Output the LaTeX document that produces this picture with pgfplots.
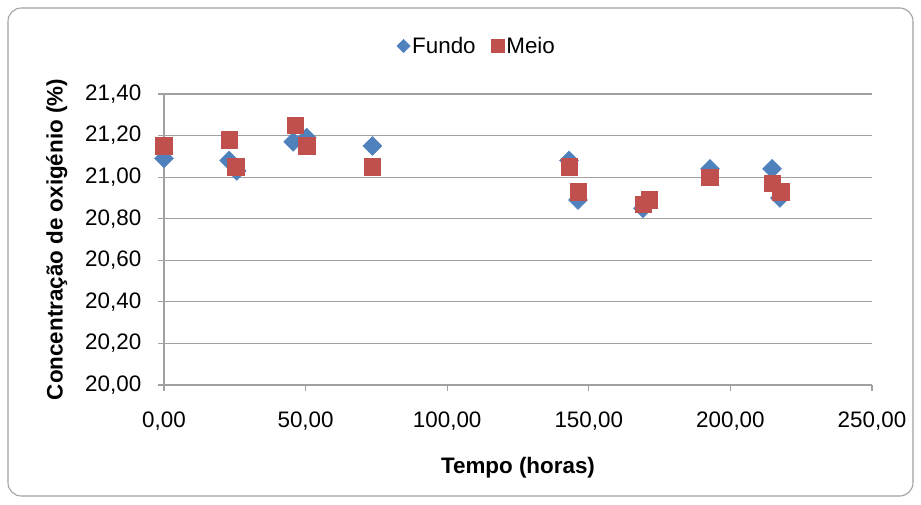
\documentclass[border=0pt]{standalone}
\usepackage{pgfplots}
\pgfplotsset{compat=1.18}
\usepackage{fontspec}
\setmainfont{Liberation Sans}
\definecolor{fundo}{HTML}{4F81BD}
\definecolor{meio}{HTML}{C0504D}
\definecolor{gridc}{HTML}{A0A0A0}
\begin{document}
\begin{tikzpicture}[x=1pt,y=1pt]
\path (-123,-89.25) rectangle (567.75,288.75);
\draw[gridc, rounded corners=10pt, line width=0.8pt] (-117,-83.25) rectangle (561.75,282.75);
\begin{axis}[
  at={(0,0)}, anchor=south west,
  scale only axis, width=531pt, height=218.25pt,
  xmin=0, xmax=250, ymin=20, ymax=21.4,
  xtick={0,50,100,150,200,250},
  ytick={20,20.2,20.4,20.6,20.8,21,21.2,21.4},
  axis x line*=bottom, axis y line*=left,
  axis line style={gridc, line width=0.8pt, -},
  ymajorgrids, grid style={gridc, line width=0.8pt},
  tick style={gridc, line width=0.8pt},
  tick align=outside, major tick length=4.5pt,
  /pgf/number format/.cd, fixed, fixed zerofill, precision=2, use comma, 1000 sep={}, assume math mode=true,
  /pgfplots/.cd,
  ticklabel style={font=\fontsize{16.8}{20}\selectfont},
  yticklabel style={xshift=-9pt},
  xticklabel style={yshift=-12pt},
  xlabel={Tempo (horas)}, ylabel={Concentração de oxigénio (\%)},
  label style={font=\fontsize{16.8}{20}\selectfont\bfseries},
  xlabel style={at={(axis description cs:0.5,-0.283)}, anchor=center},
  ylabel style={at={(axis description cs:-0.1515,0.5)}, anchor=center},
  legend style={at={(axis description cs:0.442,1.165)}, anchor=center, draw=none, font=\fontsize{16.8}{20}\selectfont, legend columns=2, /tikz/every even column/.append style={column sep=10pt}, inner sep=0pt, nodes={inner sep=1.5pt}},
  legend cell align=left,
  legend image code/.code={\draw[#1] plot coordinates {(0pt,0pt)};},
  clip=false,
]
\addplot[only marks, mark=square*, mark size=5pt, mark options={rotate=45, fill=fundo, draw=fundo}, legend image post style={mark size=3.5pt}] coordinates {
(0,21.09) (23,21.08) (25.7,21.03) (45.6,21.17) (50.4,21.19) (73.6,21.15)
(143,21.08) (146.2,20.89) (169.1,20.85) (192.8,21.04) (214.7,21.04) (217.5,20.90)
};
\addlegendentry{Fundo}
\addplot[only marks, mark=square*, mark size=6.2pt, mark options={fill=meio, draw=meio}, legend image post style={mark size=5pt}] coordinates {
(0,21.15) (23,21.18) (25.4,21.05) (46.3,21.25) (50.4,21.15) (73.6,21.05)
(143.1,21.05) (146.3,20.93) (169.3,20.87) (171.3,20.89) (192.8,21.00) (214.8,20.97) (217.8,20.93)
};
\addlegendentry{Meio}
\end{axis}
\end{tikzpicture}
\end{document}
